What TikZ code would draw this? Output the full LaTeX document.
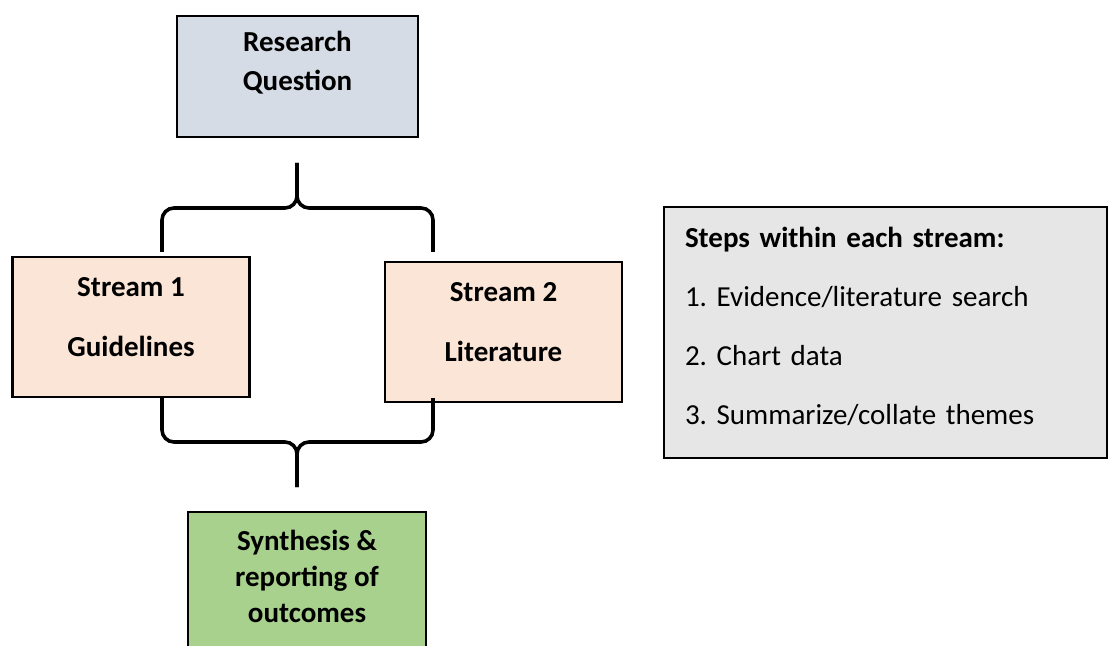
\documentclass[tikz,border=0pt]{standalone}
\usepackage{fontspec}
\setmainfont{Carlito}
\usepackage{tikz}
\usetikzlibrary{positioning}
\definecolor{RQblue}{HTML}{D6DCE5}
\definecolor{STpeach}{HTML}{FBE5D6}
\definecolor{SYgreen}{HTML}{A9D18E}
\definecolor{STEPgray}{HTML}{E7E6E6}
\frenchspacing

\begin{document}
\begin{tikzpicture}[
    x=0.5pt, y=-0.5pt,
    box/.style={draw, line width=1.2pt, inner sep=0pt, align=center, minimum width=118.5pt, font=\fontsize{14.5}{18}\selectfont\bfseries},
    stepsbox/.style={draw, line width=1.2pt, fill=STEPgray, inner xsep=10.5pt, inner ysep=0pt, text width=200.5pt, align=left, font=\fontsize{14.5}{18}\selectfont},
    brace/.style={line width=1.8pt, rounded corners=6pt}
]
    \useasboundingbox (0,0) rectangle (1112,646);
    \node[box, fill=RQblue, minimum width=120.5pt, minimum height=60.5pt, text depth=16pt, font=\fontsize{14.5}{19.5}\selectfont\bfseries] (rq) at (297.5,76.5) {Research\\Question};
    \node[box, fill=STpeach, minimum height=70pt, text depth=10.5pt] (s1) at (131,327) {Stream 1\\[12pt]Guidelines};
    \node[box, fill=STpeach, minimum height=70pt, text depth=10.5pt] (s2) at (503.5,332) {Stream 2\\[12pt]Literature};
    \node[box, fill=SYgreen, minimum width=119pt, minimum height=74pt, text depth=10pt] (syn) at (307,586) {Synthesis \&\\reporting of\\outcomes};
    \node[stepsbox, minimum height=125.5pt, text depth=95pt] (steps) at (885.5,332.5) {\textbf{Steps within each stream:}\\[11.5pt]1. Evidence/literature search\\[11.5pt]2. Chart data\\[11.5pt]3. Summarize/collate themes};

    % brace ends
    \coordinate (toptip) at (297,163);
    \coordinate (topmid) at (297,208);
    \coordinate (s1top) at (162,252);
    \coordinate (s2top) at (433,252);
    \coordinate (s1bot) at (162,397);
    \coordinate (s2bot) at (433,398);
    \coordinate (botmid) at (297,442);
    \coordinate (bottip) at (297,487);

    \draw[brace] (s1top) |- (topmid) -- (toptip);
    \draw[brace] (s2top) |- (topmid) -- (toptip);
    \draw[brace] (s1bot) |- (botmid) -- (bottip);
    \draw[brace] (s2bot) |- (botmid) -- (bottip);
\end{tikzpicture}
\end{document}
